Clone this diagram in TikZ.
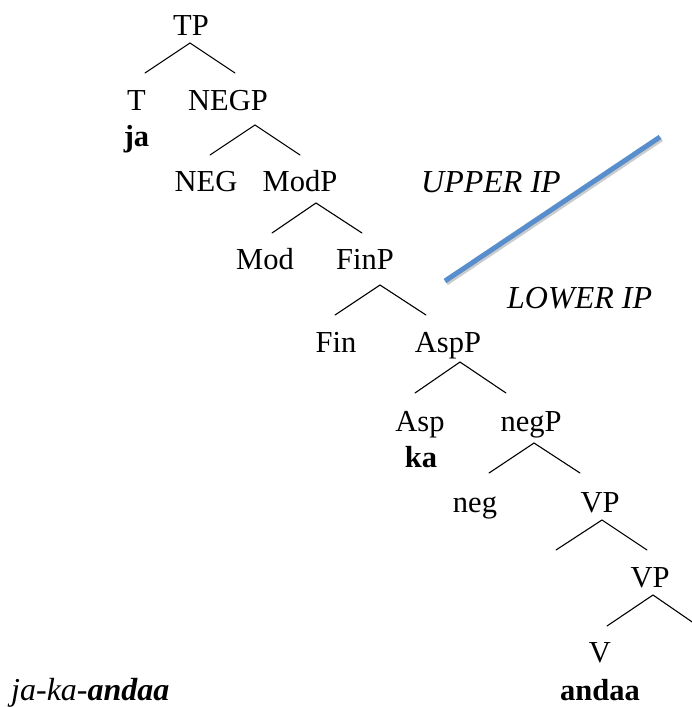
\documentclass[tikz,border=0pt]{standalone}
\usepackage{fontspec}
\setmainfont{Liberation Serif}
\definecolor{ipblue}{RGB}{88,142,204}
\begin{document}
\begin{tikzpicture}[x=1pt,y=-1pt,
  lab/.style={anchor=base,inner sep=0pt,font=\fontsize{30.5}{36}\selectfont},
  labw/.style={anchor=base west,inner sep=0pt,font=\fontsize{32}{38}\selectfont\itshape},
  br/.style={line width=1.1pt,line cap=round},
  divider/.style={line width=5pt,ipblue},
  dividershadow/.style={line width=5pt,black!40,opacity=0.5}]
\useasboundingbox (0,0) rectangle (692,707);
% labels
\node[lab] (TP) at (191,35) {TP};
\node[lab] (T) at (136.5,110) {T};
\node[lab] (NEGP) at (228,110) {NEGP};
\node[lab] (ja) at (136.5,146) {\textbf{ja}};
\node[lab] (NEG) at (206,191) {NEG};
\node[lab] (ModP) at (300,191) {ModP};
\node[lab] (Mod) at (265,269) {Mod};
\node[lab] (FinP) at (365,269) {FinP};
\node[lab] (Fin) at (336,352) {Fin};
\node[lab] (AspP) at (448,352) {AspP};
\node[lab] (Asp) at (420,431) {Asp};
\node[lab] (negP) at (531,431) {negP};
\node[lab] (ka) at (421,467) {\textbf{ka}};
\node[lab] (neg) at (475,512) {neg};
\node[lab] (VP) at (600,512) {VP};
\node[lab] (VPb) at (650,587) {VP};
\node[lab] (V) at (600,662) {V};
\node[lab] (andaa) at (600,700) {\textbf{andaa}};
\node[labw] (upper) at (421,192) {UPPER IP};
\node[labw] (lower) at (507,308) {LOWER IP};
\node[labw] (gloss) at (11,700) {ja-ka-\textbf{andaa}};
% branch points
\coordinate (tpA) at (190,43);  \coordinate (tpL) at (145,73);  \coordinate (tpR) at (235,73);
\coordinate (ngA) at (255,125); \coordinate (ngL) at (210,155); \coordinate (ngR) at (300,155);
\coordinate (mdA) at (316,203); \coordinate (mdL) at (272,233); \coordinate (mdR) at (362,233);
\coordinate (fnA) at (380,285); \coordinate (fnL) at (335,315); \coordinate (fnR) at (426,315);
\coordinate (asA) at (460,362); \coordinate (asL) at (415,393); \coordinate (asR) at (506,393);
\coordinate (neA) at (534,443); \coordinate (neL) at (489,473); \coordinate (neR) at (580,473);
\coordinate (vpA) at (602,520); \coordinate (vpL) at (556,550); \coordinate (vpR) at (647,550);
\coordinate (vbA) at (653,595); \coordinate (vbL) at (607,626); \coordinate (vbR) at (698,626);
\foreach \p in {tp,ng,md,fn,as,ne,vp,vb}{
  \draw[br] (\p L) -- (\p A) -- (\p R);
}
% divider
\coordinate (d1) at (445,281);
\coordinate (d2) at (660,137);
\draw[dividershadow] ([shift={(1.5,2)}]d1) -- ([shift={(1.5,2)}]d2);
\draw[divider] (d1) -- (d2);
\end{tikzpicture}
\end{document}
